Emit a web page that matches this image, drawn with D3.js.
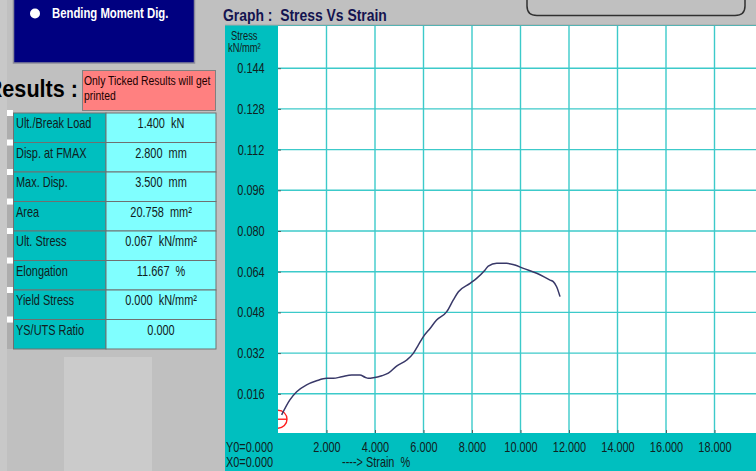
<!DOCTYPE html>
<meta charset="utf-8">
<style>
  html, body {
    margin: 0;
    padding: 0;
    background-color: #c0c0c0;
    overflow: hidden;
  }
  text {
    font-family: "Liberation Sans", Arial, sans-serif;
    transform-box: fill-box;
  }
  /* the old screen font is tall and narrow, squeeze the glyphs */
  .nar { transform-origin: left center; transform: scaleX(0.78); }
  .narm { transform-origin: center; transform: scaleX(0.78); }
</style>
<body>
<script src="https://cdnjs.cloudflare.com/ajax/libs/d3/7.8.5/d3.min.js"></script>
<script>

  // stress vs strain curve
  var strain = [0.15, 0.49, 0.77, 1.18, 1.59, 2.01, 2.28, 2.63, 3.04, 3.38, 3.59, 3.72, 3.93, 4.28, 4.55,
    4.89, 5.31, 5.58, 5.79, 5.99, 6.27, 6.54, 6.96, 7.23, 7.44, 7.92, 8.19, 8.54, 8.67, 9.02, 9.15, 9.43,
    9.77, 10.12, 10.67, 11.22, 11.35, 11.49, 11.63];
  var stress = [0.0077, 0.0136, 0.0168, 0.0195, 0.0211, 0.0221, 0.0221, 0.0227, 0.0234, 0.0234, 0.0225, 0.0221, 0.0223, 0.0231, 0.0241,
    0.0269, 0.0293, 0.0319, 0.0352, 0.0384, 0.0417, 0.0450, 0.0483, 0.0529, 0.0561, 0.0594, 0.0614, 0.0647, 0.0662, 0.0673, 0.0673, 0.0673,
    0.0666, 0.0653, 0.0634, 0.0607, 0.0601, 0.0581, 0.0542];

  // start marker (red circle)
  var markerPoint = [0, 0.006];

  var xTicks = [2, 4, 6, 8, 10, 12, 14, 16, 18];
  var yTicks = [0.016, 0.032, 0.048, 0.064, 0.080, 0.096, 0.112, 0.128, 0.144];

  // results table
  var resultLabels = ["Ult./Break Load", "Disp. at FMAX", "Max. Disp.", "Area", "Ult. Stress", "Elongation", "Yield Stress", "YS/UTS Ratio"];
  var resultValues = ["1.400  kN", "2.800  mm", "3.500  mm", "20.758  mm\u00b2", "0.067  kN/mm\u00b2", "11.667  %", "0.000  kN/mm\u00b2", "0.000"];

  var W = 756, H = 471;
  var teal = "#00bfbf", cyan = "#80ffff", grid = "#3ccaca", navy = "#000080", ink = "#102020";

  var svg = d3.select("body").append("svg")
    .attr("width", W)
    .attr("height", H);

  // ---------- left panel ----------
  svg.append("rect").attr("x", 0).attr("y", 0).attr("width", 7).attr("height", H).attr("fill", "#c8c8c8");

  // navy option box
  svg.append("rect")
    .attr("x", 13.5).attr("y", -2).attr("width", 181).attr("height", 65)
    .attr("fill", navy).attr("stroke", "#8a8a9a").attr("stroke-width", 1.5);
  svg.append("circle").attr("cx", 35).attr("cy", 13.5).attr("r", 5).attr("fill", "#ffffff");
  svg.append("text")
    .attr("class", "nar")
    .attr("x", 52).attr("y", 18)
    .attr("fill", "#ffffff").style("font-size", "14px").style("font-weight", "bold")
    .style("transform", "scaleX(0.81)")
    .text("Bending Moment Dig.");

  // Results title (first letter runs off the left edge)
  svg.append("text")
    .attr("x", 78).attr("y", 97)
    .attr("text-anchor", "end")
    .attr("fill", "#000000").style("font-size", "23px").style("font-weight", "bold")
    .style("transform-origin", "right center").style("transform", "scaleX(0.94)")
    .text("Results :");

  svg.append("rect")
    .attr("x", 82.5).attr("y", 70.5).attr("width", 133).attr("height", 40)
    .attr("fill", "#ff8080").attr("stroke", "#808080");
  svg.append("text").attr("class", "nar").attr("x", 84).attr("y", 85).attr("fill", "#200000")
    .style("font-size", "13.5px").style("transform", "scaleX(0.77)")
    .text("Only Ticked Results will get");
  svg.append("text").attr("class", "nar").attr("x", 84).attr("y", 100).attr("fill", "#200000")
    .style("font-size", "13.5px").style("transform", "scaleX(0.77)")
    .text("printed");

  // table
  var rowY = d3.scaleBand().domain(d3.range(resultLabels.length)).range([113, 349]);
  var rows = svg.selectAll(".row")
    .data(resultLabels)
    .enter().append("g")
    .attr("class", "row")
    .attr("transform", function (d, i) { return "translate(0," + rowY(i) + ")"; });

  rows.append("rect").attr("x", 7).attr("y", 3).attr("width", 6).attr("height", rowY.bandwidth() - 3).attr("fill", "#adadad");
  rows.append("rect").attr("x", 7).attr("y", -3).attr("width", 6).attr("height", 6).attr("fill", "#ffffff");
  rows.append("rect")
    .attr("x", 13.5).attr("y", 0).attr("width", 92.5).attr("height", rowY.bandwidth())
    .attr("fill", teal).attr("stroke", "#707070");
  rows.append("rect")
    .attr("x", 106).attr("y", 0).attr("width", 110).attr("height", rowY.bandwidth())
    .attr("fill", cyan).attr("stroke", "#707070");
  rows.append("text")
    .attr("class", "nar")
    .attr("x", 16).attr("y", 15.5)
    .attr("fill", ink).style("font-size", "15px").style("transform", "scaleX(0.73)")
    .text(function (d) { return d; });
  rows.append("text")
    .attr("class", "narm")
    .attr("x", 161).attr("y", 15.5)
    .attr("text-anchor", "middle")
    .attr("xml:space", "preserve")
    .attr("fill", ink).style("font-size", "15px").style("transform", "scaleX(0.73)")
    .text(function (d, i) { return resultValues[i]; });

  svg.append("rect").attr("x", 64).attr("y", 357).attr("width", 88).attr("height", H - 357).attr("fill", "#cbcbcb");

  // ---------- graph panel ----------
  svg.append("rect").attr("x", 225).attr("y", 25).attr("width", W - 225).attr("height", H - 25).attr("fill", teal);
  svg.append("line").attr("x1", 225).attr("x2", W).attr("y1", 25).attr("y2", 25).attr("stroke", "#a8a8a8");

  svg.append("text")
    .attr("class", "nar")
    .attr("x", 223).attr("y", 21)
    .attr("xml:space", "preserve")
    .attr("fill", "#141450").style("font-size", "16px").style("font-weight", "bold")
    .style("transform", "scaleX(0.87)")
    .text("Graph :  Stress Vs Strain");

  // rounded box at top
  svg.append("path")
    .attr("d", "M527,0 V6 Q527,15.5 537,15.5 H735 Q745,15.5 745,6 V0")
    .attr("fill", "none").attr("stroke", "#303030").attr("stroke-width", 1.5);

  var plotLeft = 278, plotTop = 26, plotBottom = 433;

  var x = d3.scaleLinear().domain([0, 20]).range([plotLeft, plotLeft + 485]);
  var y = d3.scaleLinear().domain([0, 0.16]).range([434.5, 27.5]);

  svg.append("defs").append("clipPath").attr("id", "plotclip")
    .append("rect").attr("x", plotLeft).attr("y", plotTop).attr("width", W - plotLeft).attr("height", plotBottom - plotTop);

  svg.append("rect")
    .attr("x", plotLeft).attr("y", plotTop).attr("width", W - plotLeft).attr("height", plotBottom - plotTop)
    .attr("fill", "#ffffff");

  var plot = svg.append("g").attr("clip-path", "url(#plotclip)");

  // grid lines
  plot.selectAll(".vgrid")
    .data(xTicks)
    .enter().append("line")
    .attr("class", "vgrid")
    .attr("x1", function (d) { return x(d); }).attr("x2", function (d) { return x(d); })
    .attr("y1", plotTop).attr("y2", plotBottom)
    .attr("stroke", grid).attr("stroke-width", 1.4);
  plot.selectAll(".hgrid")
    .data(yTicks)
    .enter().append("line")
    .attr("class", "hgrid")
    .attr("x1", plotLeft).attr("x2", W)
    .attr("y1", function (d) { return y(d); }).attr("y2", function (d) { return y(d); })
    .attr("stroke", grid).attr("stroke-width", 1.4);

  // the x Axis (ticks inward, labels below)
  var gX = svg.append("g")
    .attr("transform", "translate(0," + plotBottom + ")")
    .call(d3.axisBottom(x).tickValues(xTicks).tickSize(-3).tickPadding(9).tickFormat(d3.format(".3f")));
  gX.select(".domain").remove();
  gX.selectAll("line").attr("stroke", "#506060");
  gX.selectAll("text").attr("class", "narm").attr("fill", ink).style("font-size", "14px").style("font-family", null);

  // the y Axis
  var gY = svg.append("g")
    .attr("transform", "translate(" + plotLeft + ",0)")
    .call(d3.axisLeft(y).tickValues(yTicks).tickSize(-3).tickFormat(d3.format(".3f")));
  gY.select(".domain").remove();
  gY.selectAll("line").attr("stroke", "#506060");
  gY.selectAll("text")
    .attr("class", "narm")
    .attr("x", -27).attr("text-anchor", "middle")
    .attr("fill", ink).style("font-size", "14px").style("font-family", null);

  // axis labels
  svg.append("text").attr("class", "nar").attr("x", 231).attr("y", 40.5).attr("fill", ink)
    .style("font-size", "12px").text("Stress");
  svg.append("text").attr("class", "nar").attr("x", 228).attr("y", 52).attr("fill", ink)
    .style("font-size", "12px").text("kN/mm\u00b2");
  svg.append("text").attr("class", "nar").attr("x", 226).attr("y", 452).attr("fill", ink)
    .style("font-size", "14px").text("Y0=0.000");
  svg.append("text").attr("class", "nar").attr("x", 226).attr("y", 467).attr("fill", ink)
    .style("font-size", "14px").text("X0=0.000");
  svg.append("text").attr("class", "nar").attr("x", 342).attr("y", 467.5).attr("fill", ink)
    .style("font-size", "14px")
    .attr("xml:space", "preserve").text("----> Strain  %");

  // start marker
  plot.append("circle")
    .attr("cx", x(markerPoint[0])).attr("cy", y(markerPoint[1])).attr("r", 9)
    .attr("fill", "none").attr("stroke", "#ff2020").attr("stroke-width", 1.4);
  plot.append("line")
    .attr("x1", x(markerPoint[0])).attr("x2", x(markerPoint[0]) + 9)
    .attr("y1", y(markerPoint[1])).attr("y2", y(markerPoint[1]))
    .attr("stroke", "#ff2020").attr("stroke-width", 1.4);

  // the curve
  var line = d3.line()
    .x(function (d, i) { return x(strain[i]); })
    .y(function (d) { return y(d); })
    .curve(d3.curveMonotoneX);

  plot.append("path")
    .datum(stress)
    .attr("d", line)
    .attr("fill", "none")
    .attr("stroke", "#383868")
    .attr("stroke-width", 1.5);

</script>
</body>
